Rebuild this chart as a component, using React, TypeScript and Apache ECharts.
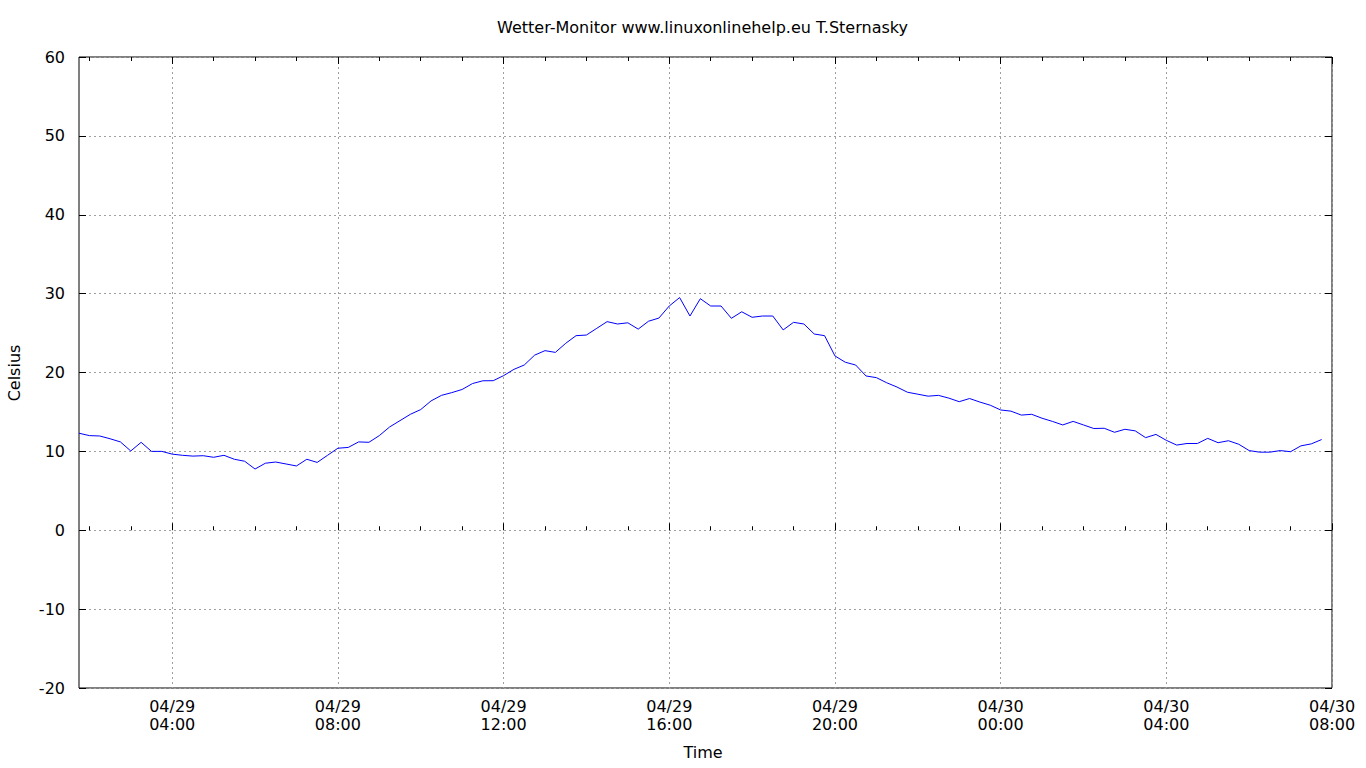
import React, { useEffect, useRef } from "react";
import * as echarts from "echarts";

// Time axis: hours counted from 04/29 00:00, one reading every 15 minutes
const START_HOUR = 1.75;
const STEP_HOURS = 0.25;
const X_MIN = 1.75;
const X_MAX = 32;
const MAJOR_TICKS = [4, 8, 12, 16, 20, 24, 28, 32];
const MINOR_TICKS = [2, 3, 5, 6, 7, 9, 10, 11, 13, 14, 15, 17, 18, 19, 21, 22, 23, 25, 26, 27, 29, 30, 31];

const TITLE = "Wetter-Monitor www.linuxonlinehelp.eu T.Sternasky";
const X_NAME = "Time";
const Y_NAME = "Celsius";

// Temperature (Celsius)
const temperature = [
  12.3, 12.0, 11.95, 11.6, 11.2, 10.05, 11.15, 10.0, 10.0, 9.65,
  9.5, 9.4, 9.45, 9.25, 9.5, 9.0, 8.75, 7.76, 8.5, 8.65,
  8.4, 8.15, 9.0, 8.6, 9.5, 10.4, 10.5, 11.2, 11.15, 12.0,
  13.1, 13.9, 14.7, 15.3, 16.4, 17.1, 17.45, 17.85, 18.6, 18.95,
  18.96, 19.6, 20.4, 20.95, 22.2, 22.77, 22.55, 23.7, 24.67, 24.75,
  25.6, 26.45, 26.15, 26.3, 25.5, 26.5, 26.9, 28.43, 29.5, 27.16,
  29.36, 28.43, 28.43, 26.87, 27.7, 27.0, 27.16, 27.16, 25.4, 26.36,
  26.15, 24.88, 24.67, 22.1, 21.3, 20.95, 19.56, 19.35, 18.7, 18.15,
  17.5, 17.25, 17.0, 17.1, 16.75, 16.3, 16.7, 16.25, 15.85, 15.25,
  15.1, 14.6, 14.7, 14.2, 13.8, 13.35, 13.8, 13.35, 12.9, 12.93,
  12.42, 12.8, 12.6, 11.74, 12.15, 11.4, 10.8, 11.0, 11.0, 11.65,
  11.1, 11.35, 10.9, 10.1, 9.9, 9.9, 10.1, 9.96, 10.7, 10.95,
  11.5,
];

const FONT = "DejaVu Sans";
const FS = 16;

function fmtTime(h: number): string {
  const day = h >= 24 ? "04/30" : "04/29";
  const hh = Math.round(h) % 24;
  return day + "\n" + (hh < 10 ? "0" : "") + hh + ":00";
}

export default function App() {
  const ref = useRef<HTMLDivElement>(null);
  useEffect(() => {
    if (!ref.current) return;
    const chart = echarts.init(ref.current, undefined, { renderer: "svg" });
    const data = temperature.map((v, i) => [START_HOUR + i * STEP_HOURS, v]);
    const gridLine = { show: true, lineStyle: { color: "#a0a0a0", width: 1, type: [2, 3] as any } };
    const baseX = {
      type: "value" as const,
      min: X_MIN,
      max: X_MAX,
      axisLine: { show: false },
      axisLabel: { show: false },
      splitLine: { show: false },
    };
    chart.setOption({
      animation: false,
      backgroundColor: "#ffffff",
      textStyle: { fontFamily: FONT },
      grid: {
        left: 79,
        right: 34,
        top: 57,
        bottom: 80,
        show: true,
        borderColor: "#000000",
        borderWidth: 1,
        backgroundColor: "transparent",
        containLabel: false,
      },
      graphic: [
        {
          type: "text",
          x: 702.5,
          y: 27,
          style: { text: TITLE, font: `${FS}px "${FONT}"`, fill: "#000", align: "center", verticalAlign: "middle" },
        },
        {
          type: "text",
          x: 703,
          y: 752,
          style: { text: X_NAME, font: `${FS}px "${FONT}"`, fill: "#000", align: "center", verticalAlign: "middle" },
        },
        {
          type: "text",
          x: 14,
          y: 373,
          rotation: Math.PI / 2,
          style: { text: Y_NAME, font: `${FS}px "${FONT}"`, fill: "#000", align: "center", verticalAlign: "middle" },
        },
      ],
      xAxis: [
        {
          ...baseX,
          position: "bottom",
          axisTick: { show: true, inside: true, length: 7, customValues: MAJOR_TICKS, lineStyle: { color: "#000" } },
          axisLabel: {
            show: true,
            customValues: MAJOR_TICKS,
            formatter: (v: number) => fmtTime(v),
            color: "#000",
            fontSize: FS,
            fontFamily: FONT,
            lineHeight: 18,
            margin: 9,
            showMinLabel: true,
            showMaxLabel: true,
          },
          splitLine: gridLine,
        },
        {
          ...baseX,
          position: "bottom",
          axisTick: { show: true, inside: true, length: 4, customValues: MINOR_TICKS, lineStyle: { color: "#000" } },
        },
        {
          ...baseX,
          position: "top",
          axisTick: { show: true, inside: true, length: 7, customValues: MAJOR_TICKS, lineStyle: { color: "#000" } },
        },
        {
          ...baseX,
          position: "top",
          axisTick: { show: true, inside: true, length: 4, customValues: MINOR_TICKS, lineStyle: { color: "#000" } },
        },
      ],
      yAxis: [
        {
          type: "value",
          min: -20,
          max: 60,
          interval: 10,
          position: "left",
          axisLine: { show: false },
          axisTick: { show: true, inside: true, length: 7, lineStyle: { color: "#000" } },
          axisLabel: { color: "#000", fontSize: FS, fontFamily: FONT, margin: 14 },
          splitLine: gridLine,
        },
        {
          type: "value",
          min: -20,
          max: 60,
          interval: 10,
          position: "right",
          axisLine: { show: false },
          axisTick: { show: true, inside: true, length: 7, lineStyle: { color: "#000" } },
          axisLabel: { show: false },
          splitLine: { show: false },
        },
      ],
      series: [
        {
          type: "line",
          xAxisIndex: 0,
          yAxisIndex: 0,
          data,
          showSymbol: false,
          symbol: "none",
          lineStyle: { color: "#0000ff", width: 1 },
          z: 5,
        },
      ],
    });
    return () => chart.dispose();
  }, []);
  return (
    <div
      ref={ref}
      style={{ position: "absolute", left: 0, top: 0, width: 1366, height: 768, background: "#fff" }}
    />
  );
}
